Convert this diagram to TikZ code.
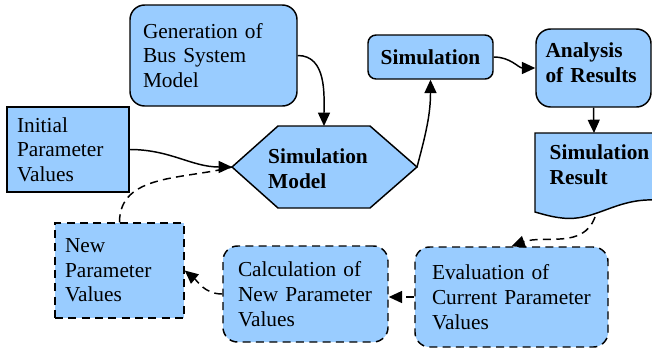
\documentclass[tikz,border=0pt]{standalone}
\usepackage{fontspec}
\setmainfont{Liberation Serif}
\newfontfamily\labelfont{Liberation Serif}
\definecolor{paleblue}{RGB}{153, 204, 255}
\usetikzlibrary{arrows.meta, positioning}

\begin{document}
\begin{tikzpicture}[x=0.75pt, y=-0.75pt,
    box/.style={draw, fill=paleblue, line width=1.1pt, align=left, font=\labelfont\fontsize{16}{18.5}\selectfont},
    roundbox/.style={box, rounded corners=11pt},
    boldtext/.style={font=\labelfont\fontsize{16}{18.5}\selectfont\bfseries},
    dashbox/.style={dash pattern=on 6pt off 4pt},
    arrow/.style={-{Triangle[length=10pt, width=9pt]}, line width=1.1pt},
    dasharrow/.style={arrow, dash pattern=on 6pt off 4pt}]
  \useasboundingbox (0,0) rectangle (652,351);

  % upper row
  \node[roundbox, minimum width=125.25pt, minimum height=75.75pt, text width=105.75pt, inner xsep=9.75pt] (gen) at (213.5,55.5) {Generation of\\Bus System\\Model};
  \node[box, minimum width=91.5pt, minimum height=63.75pt, text width=76.5pt, inner xsep=7.5pt] (init) at (68,149.5) {Initial\\Parameter\\Values};
  \node[roundbox, boldtext, rounded corners=6pt, align=center, minimum width=93.75pt, minimum height=33pt] (sim) at (430.5,57) {Simulation};
  \node[roundbox, boldtext, minimum width=86.25pt, minimum height=58.5pt, text width=72pt, inner xsep=7pt] (ana) at (593.5,68) {Analysis\\of Results\\[-10pt]\mbox{}};

  % hexagon
  \draw[fill=paleblue, line width=1.1pt] (232,167) -- (278,126) -- (370,126) -- (417,167) -- (370,208) -- (278,208) -- cycle;
  \node[boldtext, align=left] (hex) at (318,169) {Simulation\\Model};
  \coordinate (hex-west) at (232,167);
  \coordinate (hex-north) at (324,126);
  \coordinate (hex-east) at (417,167);

  % document shape
  \draw[fill=paleblue, line width=1.1pt] (535,133) -- (656,133) -- (656,200) .. controls (615,198) and (595,222) .. (562,218) .. controls (552,217) and (542,214) .. (535,212) -- cycle;
  \node[boldtext, align=left, anchor=west] (res) at (545,165) {Simulation\\Result};
  \coordinate (res-top) at (594,133);
  \coordinate (res-bot) at (595,217);

  % lower row
  \node[box, dashbox, minimum width=96.75pt, minimum height=71.25pt, text width=81.75pt, inner xsep=7.5pt] (newp) at (119.5,270.5) {New\\Parameter\\Values};
  \node[roundbox, dashbox, minimum width=123.75pt, minimum height=72pt, text width=101.25pt, inner xsep=11.25pt] (calc) at (305.5,294) {Calculation of\\New Parameter\\Values};
  \node[roundbox, dashbox, minimum width=144.75pt, minimum height=75pt, text width=119.25pt, inner xsep=12.75pt] (eval) at (511.5,297) {Evaluation of\\Current Parameter\\Values};

  \draw[arrow] (gen.east) to[out=0, in=90] (hex-north);
  \draw[arrow] (init.east) to[out=0, in=180] (hex-west);
  \draw[arrow] (hex-east) to[out=75, in=-90] (sim.south);
  \draw[arrow] (sim.east) to[out=0, in=180] (ana.west);
  \draw[arrow] (ana.south) -- (res-top);
  \draw[dasharrow] (res-bot) to[out=-110, in=20] (eval.north);
  \draw[dasharrow] (eval.west) -- (eval.west -| calc.east);
  \draw[dasharrow] (calc.west) to[out=180, in=-40] (newp.east);
  \draw[line width=1.1pt, dash pattern=on 6pt off 4pt] (newp.north) to[out=90, in=195] (hex-west);
\end{tikzpicture}
\end{document}
